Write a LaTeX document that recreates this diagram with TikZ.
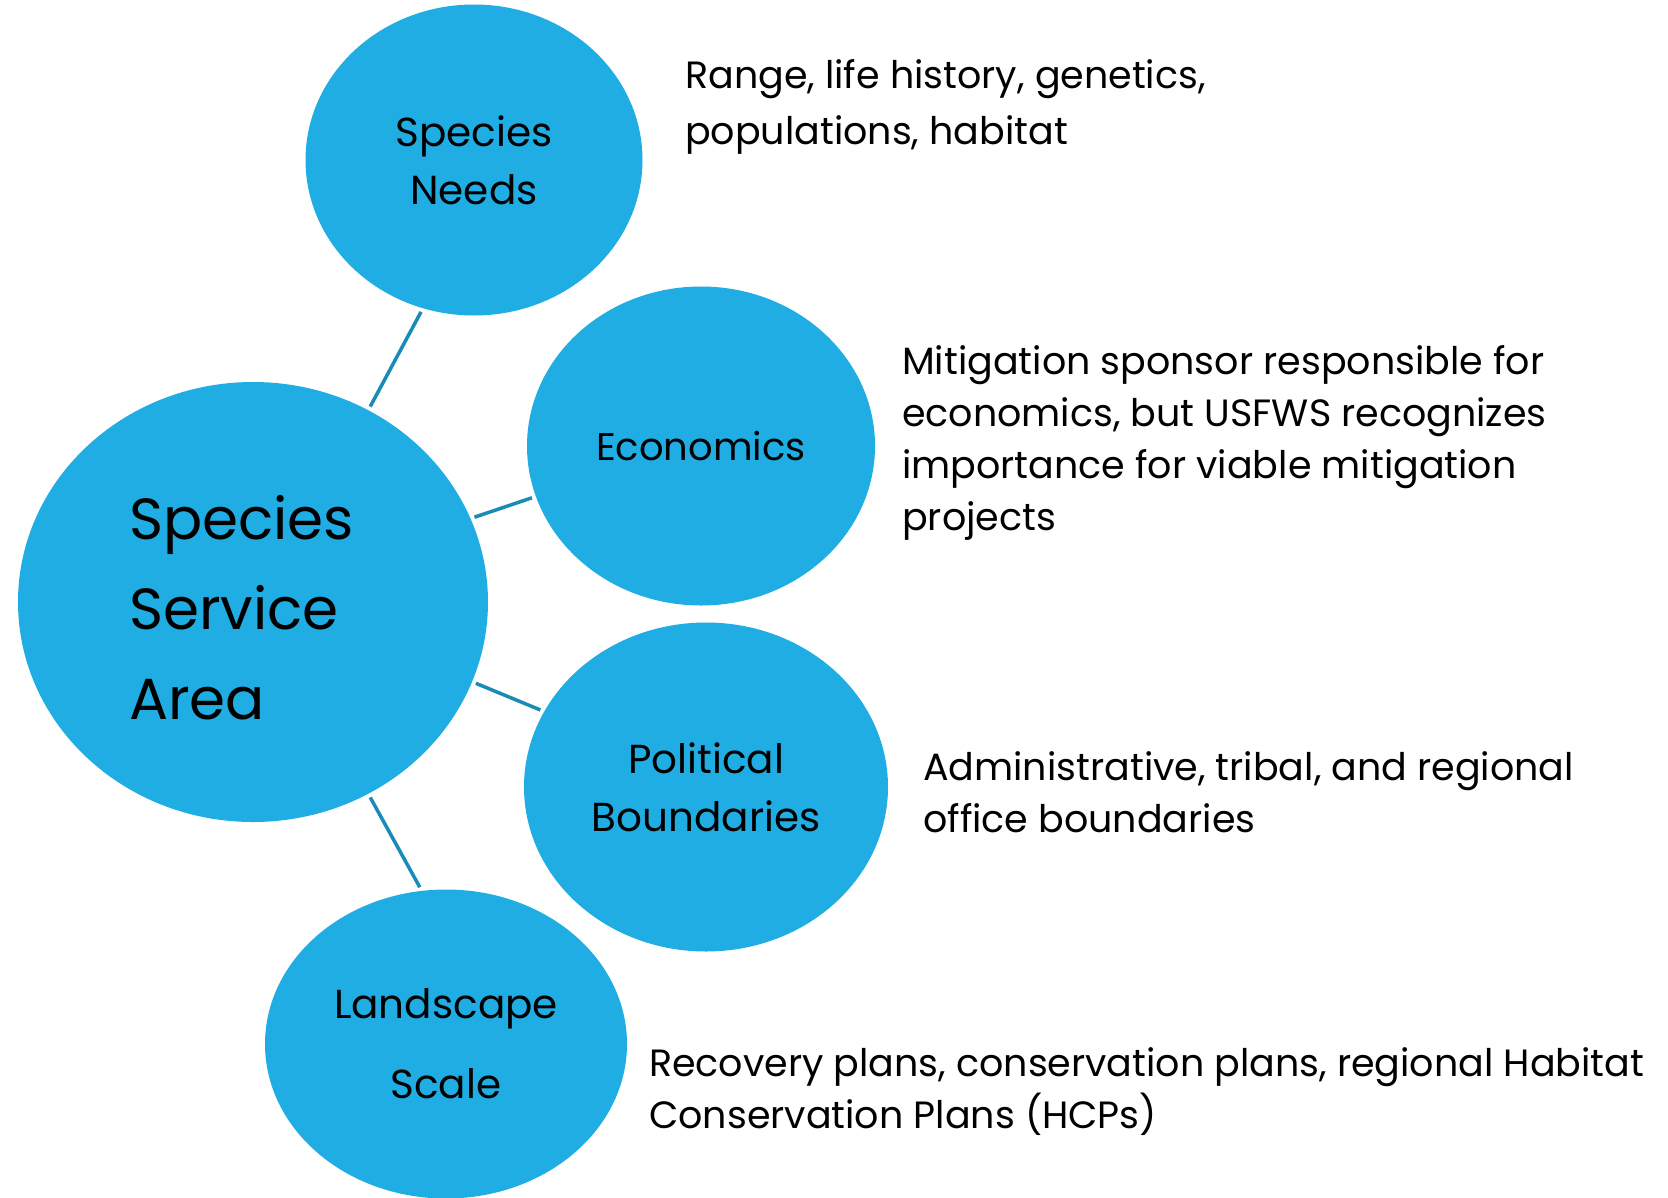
\documentclass[tikz,border=0pt]{standalone}
\usepackage{fontspec}
\setmainfont{Poppins}
\usetikzlibrary{shapes.geometric}

\definecolor{bubbleblue}{RGB}{31,173,228}
\definecolor{linkblue}{RGB}{26,138,182}

\begin{document}
\begin{tikzpicture}[
		x=1pt, y=-1pt,
		bubble/.style={ellipse, fill=bubbleblue, inner sep=0pt, align=center,
			font=\fontsize{40.5}{58}\selectfont},
		link/.style={draw=linkblue, line width=3.5pt, shorten <=4pt, shorten >=4pt},
		note/.style={anchor=west, align=left, inner sep=0pt}
		]
		\useasboundingbox (0,0) rectangle (1668,1197);
		
		% ==========================================
		% CENTRAL BUBBLE
		% ==========================================
		\node[bubble, minimum width=470pt, minimum height=440pt] (ssa) at (253,602) {};
		\node[align=left, text width=242pt, inner sep=0pt,
			font=\fontsize{58}{90}\selectfont] (ssatext) at (250,608) {Species\\Service\\Area};
		
		% ==========================================
		% OUTER BUBBLES
		% ==========================================
		\node[bubble, minimum width=337pt, minimum height=311pt] (needs) at (474,160) {Species\\Needs};
		\node[bubble, minimum width=348pt, minimum height=319pt,
			font=\fontsize{38.5}{58}\selectfont] (econ) at (701,446) {Economics};
		\node[bubble, minimum width=364pt, minimum height=329pt] (pol) at (706,787) {Political\\Boundaries};
		\node[bubble, minimum width=362pt, minimum height=309pt,
			font=\fontsize{40.5}{80}\selectfont] (land) at (446,1044) {Landscape\\Scale};
		
		% Connectors
		\draw[link] (ssa.59) -- (needs.251);
		\draw[link] (ssa.21) -- (econ.197);
		\draw[link] (ssa.-20) -- (pol.155);
		\draw[link] (ssa.-59) -- (land.99);
		
		% ==========================================
		% DESCRIPTIONS
		% ==========================================
		\node[note, font=\fontsize{38}{56.5}\selectfont] (range) at (685,107)
			{Range, life history, genetics,\\populations, habitat};
		\node[note, font=\fontsize{38}{52}\selectfont] (sponsor) at (902,443)
			{Mitigation sponsor responsible for\\economics, but USFWS recognizes\\importance for viable mitigation\\projects};
		\node[note, font=\fontsize{38}{52}\selectfont] (admin) at (923,792)
			{Administrative, tribal, and regional\\office boundaries};
		\node[note, font=\fontsize{38}{52}\selectfont] (plans) at (649,1092)
			{Recovery plans, conservation plans, regional Habitat\\Conservation Plans (HCPs)};
		
	\end{tikzpicture}
\end{document}
